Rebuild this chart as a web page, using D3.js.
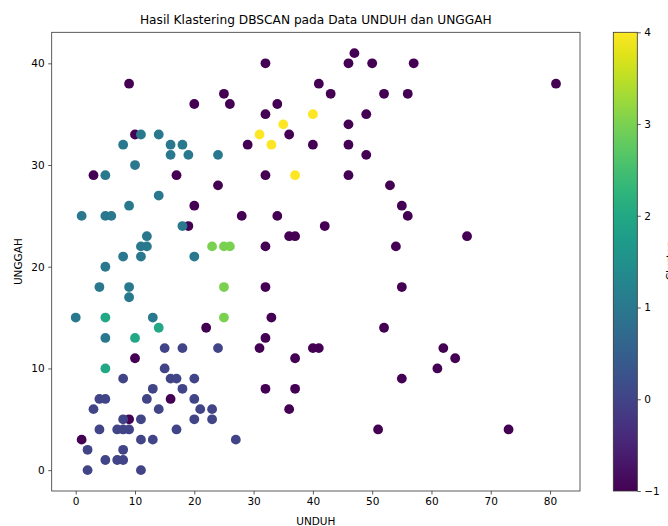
<!DOCTYPE html>
<html>
<head>
<meta charset="utf-8">
<script src="https://cdn.jsdelivr.net/npm/d3@7"></script>
<style>
  body { margin: 0; background: #fff; }
  text { font-family: "DejaVu Sans", sans-serif; fill: #000; }
</style>
</head>
<body>
<div id="chart"></div>
<script>
// data: [UNDUH, UNGGAH] per cluster label
const noise = [[32,40],[9,38],[41,38],[25,37],[20,36],[26,36],[34,36],[32,35],[36,33],[10,33],[29,32],[40,32],
  [3,29],[17,29],[32,29],[24,28],[20,26],[28,25],[34,25],[19,24],[36,23],[37,23],[32,22],
  [47,41],[46,40],[50,40],[57,40],[81,38],[43,37],[52,37],[56,37],[49,35],[46,34],[46,32],[49,31],[46,29],
  [53,28],[55,26],[56,25],[42,24],[66,23],[54,22],[32,18],[33,15],[22,14],[32,13],[31,12],[37,11],[40,12],
  [41,12],[10,11],[32,8],[37,8],[36,6],[16,7],[9,5],[1,3],[55,18],[52,14],[62,12],[64,11],[61,10],[55,9],
  [51,4],[73,4]];
const cluster0 = [[15,12],[18,12],[24,12],[15,10],[8,9],[16,9],[17,9],[20,9],[13,8],[18,8],[4,7],[5,7],[12,7],
  [20,7],[3,6],[14,6],[21,6],[23,6],[8,5],[11,5],[20,5],[23,5],[4,4],[7,4],[8,4],[9,4],[17,4],[11,3],[13,3],
  [27,3],[2,2],[8,2],[5,1],[7,1],[8,1],[2,0],[11,0]];
const cluster1 = [[11,33],[14,33],[8,32],[16,32],[18,32],[16,31],[19,31],[24,31],[10,30],[5,29],[14,27],[9,26],
  [1,25],[5,25],[6,25],[18,24],[12,23],[11,22],[12,22],[8,21],[11,21],[20,21],[5,20],[4,18],[9,18],[9,17],
  [0,15],[13,15],[5,13]];
const cluster2 = [[5,15],[14,14],[10,13],[5,10]];
const cluster3 = [[23,22],[25,22],[26,22],[25,18],[25,15]];
const cluster4 = [[40,35],[35,34],[31,33],[33,32],[37,29]];

const xTicks = [0, 10, 20, 30, 40, 50, 60, 70, 80];
const yTicks = [0, 10, 20, 30, 40];
const cbTicks = [-1, 0, 1, 2, 3, 4];

const groups = [
  { label: -1, pts: noise },
  { label: 0, pts: cluster0 },
  { label: 1, pts: cluster1 },
  { label: 2, pts: cluster2 },
  { label: 3, pts: cluster3 },
  { label: 4, pts: cluster4 }
];
const points = [];
groups.forEach(g => g.pts.forEach(p => points.push({ x: p[0], y: p[1], c: g.label })));

const W = 668, H = 526;
const pLeft = 51.7, pRight = 580, pTop = 32.3, pBottom = 491;

const svg = d3.select("#chart").append("svg")
  .attr("width", W).attr("height", H);

const x = d3.scaleLinear().domain([-4.05, 85.05]).range([pLeft, pRight]);
const y = d3.scaleLinear().domain([-2.05, 43.05]).range([pBottom, pTop]);
const color = d3.scaleSequential(d3.interpolateViridis).domain([-1, 4]);

// points
svg.append("g").selectAll("circle")
  .data(points)
  .join("circle")
  .attr("cx", d => x(d.x))
  .attr("cy", d => y(d.y))
  .attr("r", 4.9)
  .attr("fill", d => color(d.c));

// axes
const xAxis = svg.append("g")
  .attr("transform", `translate(0,${pBottom})`)
  .call(d3.axisBottom(x).tickValues(xTicks).tickSize(3.5).tickPadding(3.5).tickSizeOuter(0));
const yAxis = svg.append("g")
  .attr("transform", `translate(${pLeft},0)`)
  .call(d3.axisLeft(y).tickValues(yTicks).tickSize(3.5).tickPadding(3.5).tickSizeOuter(0));
[xAxis, yAxis].forEach(a => {
  a.select(".domain").remove();
  a.selectAll("text").style("font-size", "10.5px").style("font-family", "DejaVu Sans");
  a.selectAll("line").attr("stroke", "#333").attr("stroke-width", 0.8);
});

// frame
svg.append("rect")
  .attr("x", pLeft).attr("y", pTop)
  .attr("width", pRight - pLeft).attr("height", pBottom - pTop)
  .attr("fill", "none").attr("stroke", "#333").attr("stroke-width", 0.8);

// title and axis labels
svg.append("text")
  .attr("x", (pLeft + pRight) / 2).attr("y", 23.5)
  .attr("text-anchor", "middle")
  .style("font-size", "12.2px")
  .text("Hasil Klastering DBSCAN pada Data UNDUH dan UNGGAH");
svg.append("text")
  .attr("x", (pLeft + pRight) / 2).attr("y", 525)
  .attr("text-anchor", "middle")
  .style("font-size", "10.5px")
  .text("UNDUH");
svg.append("text")
  .attr("transform", `translate(22,${(pTop + pBottom) / 2}) rotate(-90)`)
  .attr("text-anchor", "middle")
  .style("font-size", "10.5px")
  .text("UNGGAH");

// colorbar
const cbX = 613.3, cbW = 24;
const cb = d3.scaleLinear().domain([-1, 4]).range([pBottom, pTop]);
const grad = svg.append("defs").append("linearGradient")
  .attr("id", "viridis").attr("x1", 0).attr("y1", 1).attr("x2", 0).attr("y2", 0);
d3.range(0, 1.0001, 0.05).forEach(t => {
  grad.append("stop").attr("offset", t).attr("stop-color", d3.interpolateViridis(t));
});
svg.append("rect")
  .attr("x", cbX).attr("y", pTop)
  .attr("width", cbW).attr("height", pBottom - pTop)
  .attr("fill", "url(#viridis)")
  .attr("stroke", "#333").attr("stroke-width", 0.8);
const cbAxis = svg.append("g")
  .attr("transform", `translate(${cbX + cbW},0)`)
  .call(d3.axisRight(cb).tickValues(cbTicks).tickFormat(d => d < 0 ? "\u2212" + Math.abs(d) : d)
    .tickSize(3.5).tickPadding(3.5).tickSizeOuter(0));
cbAxis.select(".domain").remove();
cbAxis.selectAll("text").style("font-size", "10.5px").style("font-family", "DejaVu Sans");
cbAxis.selectAll("line").attr("stroke", "#333").attr("stroke-width", 0.8);
svg.append("text")
  .attr("transform", `translate(674,${(pTop + pBottom) / 2}) rotate(-90)`)
  .attr("text-anchor", "middle")
  .style("font-size", "10.5px")
  .text("Cluster");
</script>
</body>
</html>
